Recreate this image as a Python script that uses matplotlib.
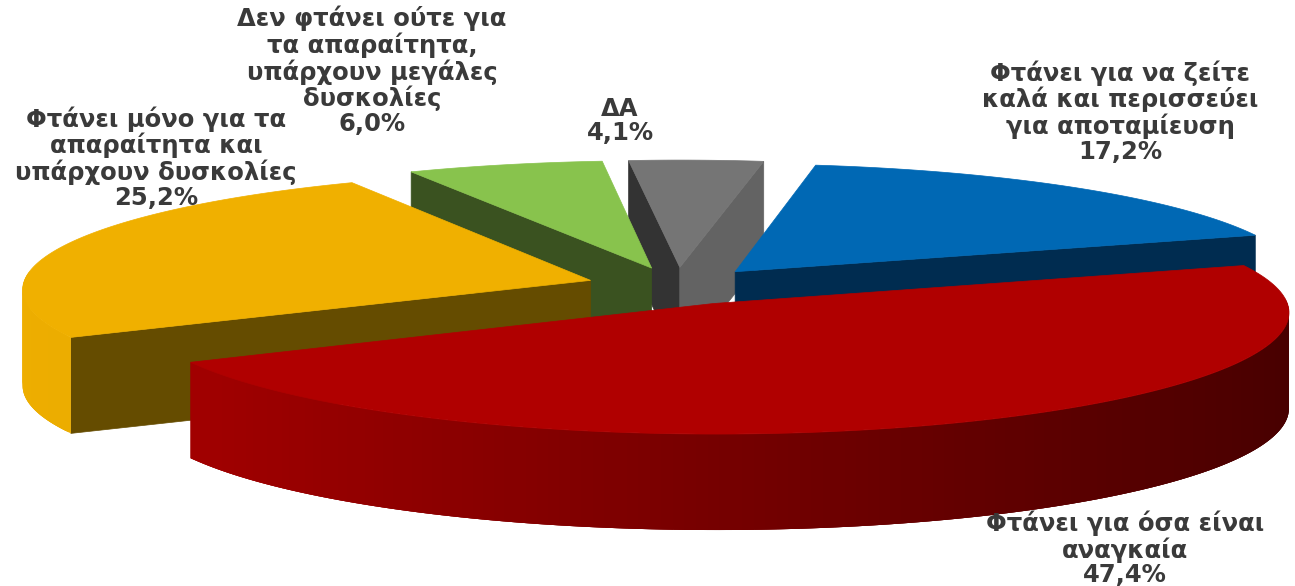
import numpy as np
import matplotlib
matplotlib.use("Agg")
import matplotlib.pyplot as plt

labels = ["Φτάνει για να ζείτε\nκαλά και περισσεύει\nγια αποταμίευση",
          "Φτάνει για όσα είναι\nαναγκαία",
          "Φτάνει μόνο για τα\nαπαραίτητα και\nυπάρχουν δυσκολίες",
          "Δεν φτάνει ούτε για\nτα απαραίτητα,\nυπάρχουν μεγάλες\nδυσκολίες",
          "ΔΑ"]
values = [17.2, 47.4, 25.2, 6.0, 4.1]
top_colors = ["#0068b4", "#b00000", "#f0b000", "#88c34d", "#757575"]
cut_start = ["#002c50", "#5a0000", "#654c00", "#3a5220", "#333333"]
cut_end = ["#002c50", "#5a0000", "#654c00", "#3a5220", "#636363"]
rim_light = ["#0068b4", "#a80000", "#eeae00", "#88c34d", "#808080"]
rim_dark = ["#003a66", "#480000", "#c89400", "#5a8033", "#5c5c5c"]
label_pos = [(1120, 112), (1125, 549), (156, 158), (372, 71), (620, 121)]

# pie geometry, in pixels of the figure
CX, CY = 677, 286
RX, RY = 568, 118
PERSP_X = 0.07
PERSP_Y = 0.075
EXPLODE = 0.16
DEPTH = 96
START = 9.2

fig = plt.figure(figsize=(12.95, 5.86), dpi=100)
ax = fig.add_axes([0, 0, 1, 1])
ax.set_xlim(0, 1295)
ax.set_ylim(586, 0)
ax.axis("off")


def project(u, v, h=0):
    sx = 1 / (1 - PERSP_X * v)
    sy = 1 / (1 - PERSP_Y * v)
    return CX + RX * u * sx, CY + RY * v * sy + h


def mix(c1, c2, t):
    a = np.array(matplotlib.colors.to_rgb(c1))
    b = np.array(matplotlib.colors.to_rgb(c2))
    return a + (b - a) * t


def quad(pts, color, z, lw=0.5):
    xs, ys = zip(*pts)
    ax.fill(xs, ys, color=color, lw=lw, zorder=z)


def area(pts):
    x, y = np.array(pts).T
    return 0.5 * np.sum(x * np.roll(y, -1) - y * np.roll(x, -1))


edges = START + 360 * np.cumsum([0] + values) / sum(values)
order = [4, 3, 0, 2, 1]
for z, i in enumerate(order):
    a0, a1 = edges[i], edges[i + 1]
    mid = np.radians((a0 + a1) / 2)
    ou, ov = EXPLODE * np.sin(mid), -EXPLODE * np.cos(mid)
    th = np.radians(np.linspace(a0, a1, 160))
    us, vs = ou + np.sin(th), ov - np.cos(th)

    base = 10 * z
    # flat cut faces, the ones turned to the viewer only
    for j, sign, col in ((0, 1, cut_start[i]), (-1, -1, cut_end[i])):
        face = [project(ou, ov), project(us[j], vs[j]),
                project(us[j], vs[j], DEPTH), project(ou, ov, DEPTH)]
        if sign * area(face) < 0:
            quad(face, col, base + 1)

    # outer rim, shaded left to right, each strip laid over the next one's edge
    for j in range(len(th) - 1):
        if np.cos(th[j]) > 0.05:
            continue
        k = min(j + 3, len(th) - 1)
        t = (np.sin((th[j] + th[j + 1]) / 2) + 1) / 2
        face = [project(us[j], vs[j]), project(us[k], vs[k]),
                project(us[k], vs[k], DEPTH), project(us[j], vs[j], DEPTH)]
        quad(face, mix(rim_light[i], rim_dark[i], t), base + 2 - j / 1000, lw=0)

    top = [project(ou, ov)] + [project(a, b) for a, b in zip(us, vs)]
    quad(top, top_colors[i], base + 3)

    ax.text(label_pos[i][0], label_pos[i][1],
            labels[i] + "\n" + f"{values[i]:.1f}".replace(".", ",") + "%",
            ha="center", va="center", fontsize=17.5, fontweight="bold",
            family="DejaVu Sans", color="#3a3a3a", linespacing=1.05, zorder=100)

fig.savefig("out.png", dpi=100, facecolor="white")
